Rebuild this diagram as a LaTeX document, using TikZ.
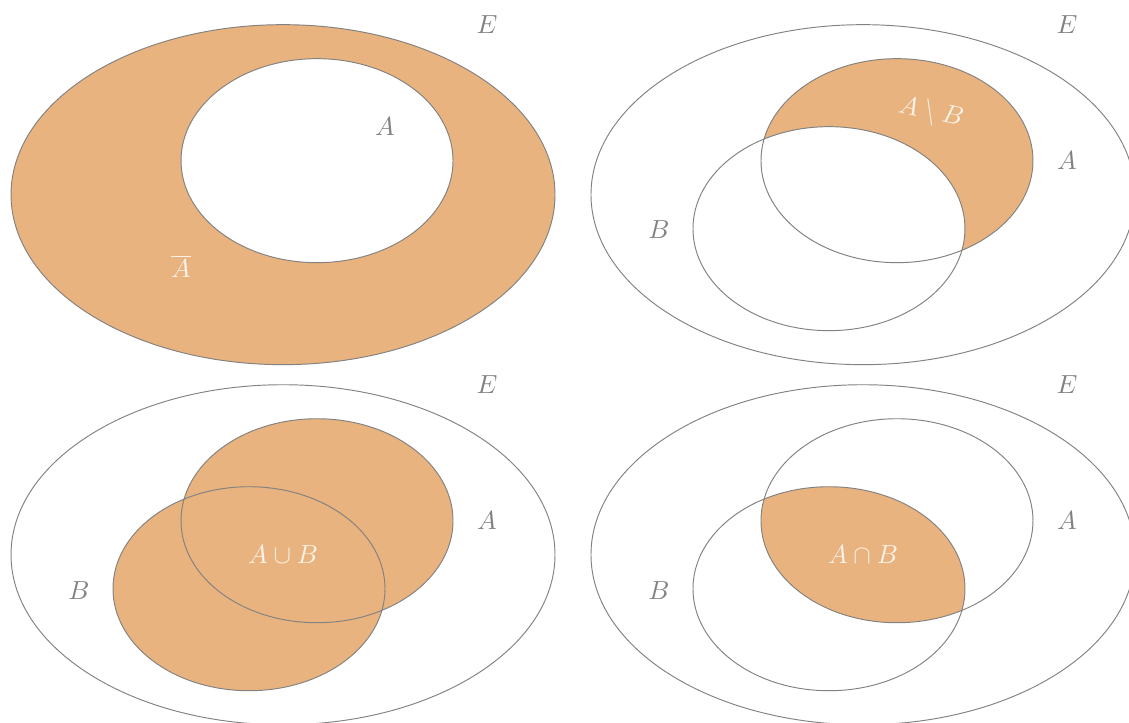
\documentclass[tikz,border=0pt]{standalone}
\usepackage{amssymb}
\definecolor{setfill}{RGB}{232,179,126}
\definecolor{setgray}{RGB}{130,130,130}
\definecolor{setwhite}{RGB}{250,242,232}
\tikzstyle{setline} = [
    draw=setgray,
    line width=0.4pt
]
\tikzstyle{setlabel} = [
    text=setgray,
    font=\fontsize{11}{13}\selectfont
]
\tikzstyle{inlabel} = [
    text=setwhite,
    font=\fontsize{11}{13}\selectfont
]

\begin{document}
\begin{tikzpicture}
\useasboundingbox (0,0) rectangle (16.603,10.618);

% complement of A
\begin{scope}[shift={(4.162,7.755)}]
\fill [setfill, even odd rule] (0,0) ellipse (4 and 2.5) (0.5,0.5) ellipse (2 and 1.5);
\draw [setline] (0,0) ellipse (4 and 2.5);
\draw [setline] (0.5,0.5) ellipse (2 and 1.5);
\node (E1) [setlabel] at (3,2.5) {$E$};
\node (A1) [setlabel] at (1.5,1) {$A$};
\node (notA) [inlabel] at (-1.5,-1.05) {$\overline{A}$};
\end{scope}

% A minus B
\begin{scope}[shift={(12.691,7.755)}]
\begin{scope}
\clip (0.5,0.5) ellipse (2 and 1.5);
\fill [setfill, even odd rule] (0.5,0.5) ellipse (2 and 1.5) (-0.5,-0.5) ellipse (2 and 1.5);
\end{scope}
\draw [setline] (0,0) ellipse (4 and 2.5);
\draw [setline] (0.5,0.5) ellipse (2 and 1.5);
\draw [setline] (-0.5,-0.5) ellipse (2 and 1.5);
\node (E2) [setlabel] at (3,2.5) {$E$};
\node (A2) [setlabel] at (3,0.5) {$A$};
\node (B2) [setlabel] at (-3,-0.52) {$B$};
\node (AminusB) [inlabel, rotate=-12] at (1,1.2) {$A\setminus B$};
\end{scope}

% A union B
\begin{scope}[shift={(4.162,2.46)}]
\fill [setfill] (0.5,0.5) ellipse (2 and 1.5);
\fill [setfill] (-0.5,-0.5) ellipse (2 and 1.5);
\draw [setline] (0,0) ellipse (4 and 2.5);
\draw [setline] (0.5,0.5) ellipse (2 and 1.5);
\draw [setline] (-0.5,-0.5) ellipse (2 and 1.5);
\node (E3) [setlabel] at (3,2.5) {$E$};
\node (A3) [setlabel] at (3,0.5) {$A$};
\node (B3) [setlabel] at (-3,-0.52) {$B$};
\node (AcupB) [inlabel] at (0,0) {$A\cup B$};
\end{scope}

% A inter B
\begin{scope}[shift={(12.691,2.46)}]
\begin{scope}
\clip (0.5,0.5) ellipse (2 and 1.5);
\fill [setfill] (-0.5,-0.5) ellipse (2 and 1.5);
\end{scope}
\draw [setline] (0,0) ellipse (4 and 2.5);
\draw [setline] (0.5,0.5) ellipse (2 and 1.5);
\draw [setline] (-0.5,-0.5) ellipse (2 and 1.5);
\node (E4) [setlabel] at (3,2.5) {$E$};
\node (A4) [setlabel] at (3,0.5) {$A$};
\node (B4) [setlabel] at (-3,-0.52) {$B$};
\node (AcapB) [inlabel] at (0,0) {$A\cap B$};
\end{scope}

\end{tikzpicture}
\end{document}
